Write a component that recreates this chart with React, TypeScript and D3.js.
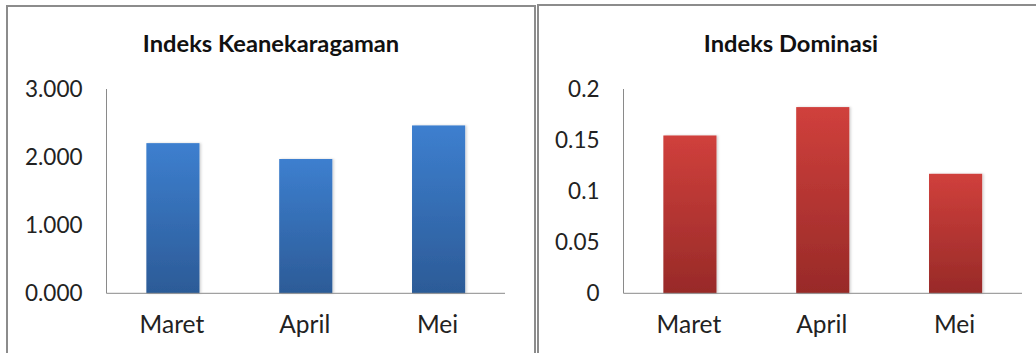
import React from "react";
import * as d3 from "d3";

const categories = ["Maret", "April", "Mei"];
const keanekaragamanValues = [2.205, 1.972, 2.465];
const dominasiValues = [0.1545, 0.1823, 0.117];
const keanekaragamanTicks = [0, 1, 2, 3];
const dominasiTicks = [0, 0.05, 0.1, 0.15, 0.2];
const titles = ["Indeks Keanekaragaman", "Indeks Dominasi"];

const W = 1036;
const H = 353;
const FONT = "Lato, 'Open Sans', sans-serif";

type PanelProps = {
  title: string;
  values: number[];
  ticks: number[];
  fmt: (v: number) => string;
  plotLeft: number;
  plotRight: number;
  titleX: number;
  gradId: string;
  topColor: string;
  bottomColor: string;
};

function Panel(p: PanelProps) {
  const top = 89;
  const bottom = 293.3;
  const y = d3.scaleLinear().domain([p.ticks[0], p.ticks[p.ticks.length - 1]]).range([bottom, top]);
  const x = d3
    .scaleBand<string>()
    .domain(categories)
    .range([p.plotLeft, p.plotRight])
    .paddingInner(0.6)
    .paddingOuter(0.3);
  return (
    <g>
      <defs>
        <linearGradient id={p.gradId} x1="0" y1="0" x2="0" y2="1">
          <stop offset="0%" stopColor={p.topColor} />
          <stop offset="100%" stopColor={p.bottomColor} />
        </linearGradient>
        <filter id={p.gradId + "sh"} x="-20%" y="-5%" width="140%" height="110%">
          <feDropShadow dx="1.5" dy="0" stdDeviation="1.2" floodColor="#000" floodOpacity="0.18" />
        </filter>
      </defs>
      <text
        x={p.titleX}
        y={52}
        textAnchor="middle"
        fontFamily={FONT}
        fontWeight="bold"
        fontSize={23.7}
        fill="#111"
      >
        {p.title}
      </text>
      {p.ticks.map((t) => (
        <text
          key={t}
          x={p.plotLeft - 24}
          y={y(t)}
          dy="0.36em"
          textAnchor="end"
          fontFamily={FONT}
          fontSize={22.5}
          fill="#222"
        >
          {p.fmt(t)}
        </text>
      ))}
      {categories.map((c, i) => (
        <rect
          key={c}
          x={x(c)!}
          y={y(p.values[i])}
          width={x.bandwidth()}
          height={bottom - y(p.values[i])}
          fill={`url(#${p.gradId})`}
          filter={`url(#${p.gradId}sh)`}
        />
      ))}
      <line x1={p.plotLeft} x2={p.plotLeft} y1={top} y2={bottom} stroke="#8a8a8a" strokeWidth={1} />
      <line x1={p.plotLeft} x2={p.plotRight} y1={bottom} y2={bottom} stroke="#8a8a8a" strokeWidth={1} />
      {categories.map((c) => (
        <text
          key={c}
          x={x(c)! + x.bandwidth() / 2 - 1}
          y={333}
          textAnchor="middle"
          fontFamily={FONT}
          fontSize={24.5}
          fill="#222"
        >
          {c}
        </text>
      ))}
    </g>
  );
}

export default function App() {
  return (
    <svg
      width={W}
      height={H}
      style={{ position: "absolute", left: 0, top: 0, display: "block", background: "#fff" }}
    >
      <rect x={0} y={0} width={W} height={H} fill="#fff" />
      <rect x={7} y={6} width={528} height={400} fill="#fff" stroke="#8c8c8c" strokeWidth={2} />
      <rect x={538} y={5} width={520} height={400} fill="#fff" stroke="#8c8c8c" strokeWidth={2} />
      <Panel
        title={titles[0]}
        values={keanekaragamanValues}
        ticks={keanekaragamanTicks}
        fmt={(v) => d3.format(".3f")(v)}
        plotLeft={106.5}
        plotRight={505}
        titleX={271}
        gradId="gBlue"
        topColor="#3d7fcf"
        bottomColor="#2c5b97"
      />
      <Panel
        title={titles[1]}
        values={dominasiValues}
        ticks={dominasiTicks}
        fmt={(v) => (v === 0 ? "0" : String(+v.toFixed(2)))}
        plotLeft={623.5}
        plotRight={1022}
        titleX={791}
        gradId="gRed"
        topColor="#d0403c"
        bottomColor="#982a28"
      />
    </svg>
  );
}
